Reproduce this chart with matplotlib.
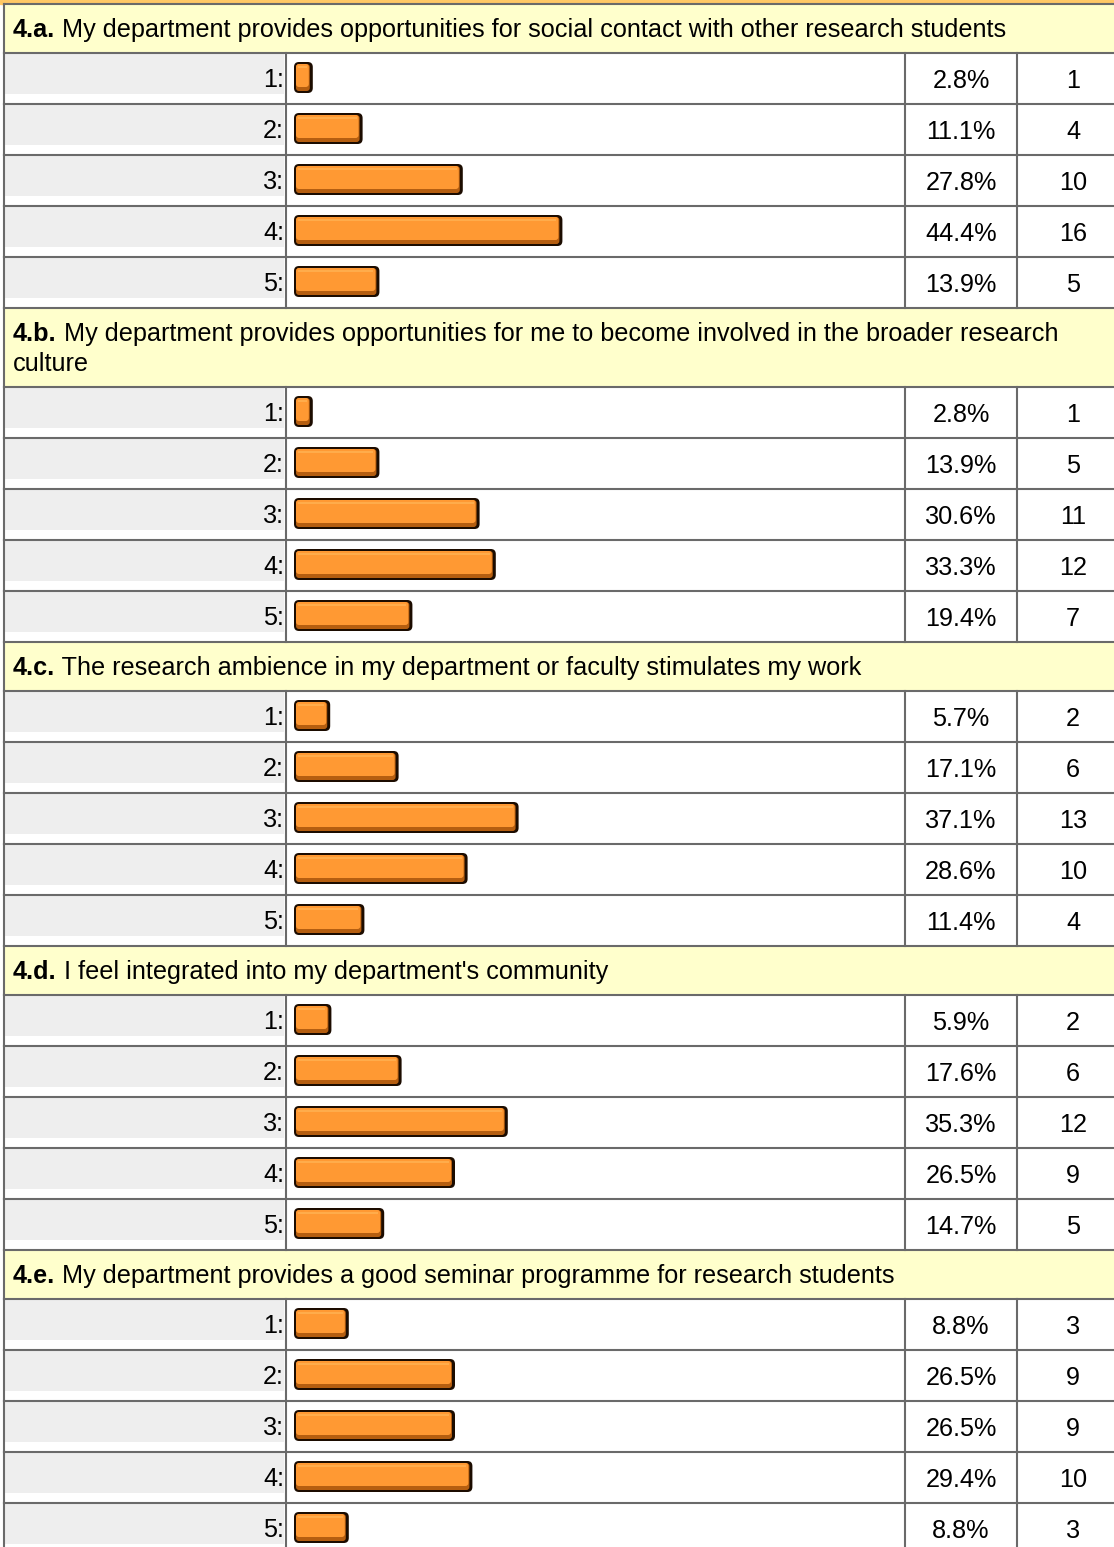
import matplotlib
matplotlib.use("Agg")
from matplotlib import pyplot as plt
from matplotlib.patches import Rectangle, FancyBboxPatch

# survey data, section 4
question_ids = ["4.a.", "4.b.", "4.c.", "4.d.", "4.e."]
question_texts = [
    "My department provides opportunities for social contact with other research students",
    "My department provides opportunities for me to become involved in the broader research\nculture",
    "The research ambience in my department or faculty stimulates my work",
    "I feel integrated into my department's community",
    "My department provides a good seminar programme for research students",
]
scale_labels = ["1:", "2:", "3:", "4:", "5:"]
percents = [
    [2.8, 11.1, 27.8, 44.4, 13.9],
    [2.8, 13.9, 30.6, 33.3, 19.4],
    [5.7, 17.1, 37.1, 28.6, 11.4],
    [5.9, 17.6, 35.3, 26.5, 14.7],
    [8.8, 26.5, 26.5, 29.4, 8.8],
]
counts = [
    [1, 4, 10, 16, 5],
    [1, 5, 11, 12, 7],
    [2, 6, 13, 10, 4],
    [2, 6, 12, 9, 5],
    [3, 9, 9, 10, 3],
]

# page geometry (pixels)
W, H = 1114, 1547
x_left, x_lab, x_pct, x_cnt, x_right = 4, 286, 905, 1017, 1130
row_h = 51
head_h = 49
line_h = 30
bar_x0 = 294
px_per_pct = 6.0

grid = "#6a6a6a"
lw = 1.5
font = "Liberation Sans"
fs = 18.2

fig = plt.figure(figsize=(W / 100, H / 100), dpi=100)
ax = fig.add_axes([0, 0, 1, 1])
ax.set_xlim(0, W)
ax.set_ylim(H, 0)
ax.axis("off")

# orange strip at the top
ax.add_patch(Rectangle((0, 0), W, 4, color="#FFC866", zorder=1))

y = 4
for q, qid in enumerate(question_ids):
    lines = question_texts[q].split("\n")
    hh = head_h + line_h * (len(lines) - 1)
    ax.add_patch(Rectangle((x_left, y), x_right - x_left, hh, facecolor="#FFFFCC",
                           edgecolor="none", zorder=1))
    ax.plot([x_left, x_right], [y, y], color=grid, lw=lw, zorder=3)
    t1 = ax.text(13, y + 33, qid, fontsize=fs, fontweight="bold", family=font,
                 va="baseline", ha="left", zorder=4)
    ax.annotate(" " + lines[0], xy=(1, 0), xycoords=t1, fontsize=fs, family=font,
                va="bottom", ha="left", zorder=4)
    for k, extra in enumerate(lines[1:]):
        ax.text(13, y + 33 + line_h * (k + 1), extra, fontsize=fs, family=font,
                va="baseline", ha="left", zorder=4)
    ax.plot([x_left, x_left], [y, y + hh], color=grid, lw=lw, zorder=3)
    y += hh

    for r in range(len(scale_labels)):
        ax.plot([x_left, x_right], [y, y], color=grid, lw=lw, zorder=3)
        # grey label cell
        ax.add_patch(Rectangle((x_left + 1, y + 1), x_lab - x_left - 3, 40,
                               facecolor="#EEEEEE", edgecolor="none", zorder=1))
        ax.text(x_lab - 2, y + 34, scale_labels[r], fontsize=fs, family=font,
                ha="right", va="baseline", zorder=4)
        # bar
        bw = percents[q][r] * px_per_pct + 2
        by = y + 9
        bh = 31
        ax.add_patch(FancyBboxPatch((bar_x0, by), bw, bh,
                                    boxstyle="round,pad=0,rounding_size=5",
                                    facecolor="#1c0c00", edgecolor="none", zorder=2))
        ax.add_patch(FancyBboxPatch((bar_x0 + 2, by + 2), bw - 5, bh - 4,
                                    boxstyle="round,pad=0,rounding_size=3",
                                    facecolor="#B55E10", edgecolor="none", zorder=2.1))
        ax.add_patch(FancyBboxPatch((bar_x0 + 2, by + 2), bw - 6, bh - 8,
                                    boxstyle="round,pad=0,rounding_size=3",
                                    facecolor="#FF9933", edgecolor="none", zorder=2.2))
        ax.plot([bar_x0 + 4, bar_x0 + bw - 6], [by + 5, by + 5], color="#FFB050",
                lw=1.2, zorder=2.3, solid_capstyle="butt")
        ax.text((x_pct + x_cnt) / 2, y + 35, "%.1f%%" % percents[q][r], fontsize=fs,
                family=font, ha="center", va="baseline", zorder=4)
        ax.text(1073, y + 35, str(counts[q][r]), fontsize=fs, family=font,
                ha="center", va="baseline", zorder=4)
        for xv in (x_left, x_lab, x_pct, x_cnt):
            ax.plot([xv, xv], [y, y + row_h], color=grid, lw=lw, zorder=3)
        y += row_h

fig.savefig("out.png", dpi=100)
